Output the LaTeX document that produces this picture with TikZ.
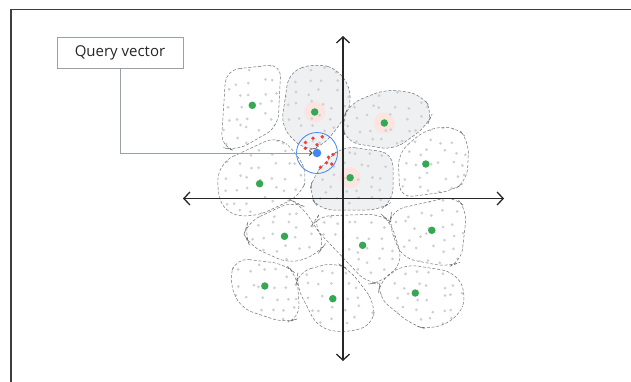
\documentclass[tikz,border=0pt]{standalone}
\usepackage{fontspec}
\usepackage{tikz}
\usetikzlibrary{arrows.meta,positioning}
\newfontfamily\labelfont{Open Sans}
\definecolor{frame-gray}{HTML}{3C4043}
\definecolor{line-gray}{HTML}{6F7378}
\definecolor{soft-gray}{HTML}{9AA0A6}
\definecolor{shade-gray}{HTML}{EEF0F2}
\definecolor{dot-gray}{HTML}{CDCFD2}
\definecolor{halo-pink}{HTML}{FCE4E1}
\definecolor{g-green}{HTML}{34A853}
\definecolor{g-blue}{HTML}{4285F4}
\definecolor{g-red}{HTML}{EA4335}
\tikzset{
    label-box/.style = {draw=soft-gray, line width=0.8pt, rectangle, minimum width=126pt, minimum height=31pt, inner sep=0pt, font=\labelfont\fontsize{15}{18}\selectfont, text=black!85},
    cell-line/.style = {draw=line-gray, line width=0.5pt, dash pattern=on 3pt off 1.8pt, rounded corners=13pt},
    cell-shade/.style = {fill=shade-gray, rounded corners=13pt},
    cell-dot/.style = {fill=dot-gray},
    centroid/.style = {circle, fill=g-green, inner sep=0pt, minimum size=7.5pt},
    halo/.style = {fill=halo-pink},
    axis/.style = {draw=black!85, line width=1.3pt, {Straight Barb[length=6pt,width=13pt]}-{Straight Barb[length=6pt,width=13pt]}},
    leader/.style = {draw=soft-gray, line width=1pt, -{Straight Barb[length=2.5pt,width=5pt,black!70]}},
    query-dot/.style = {circle, fill=g-blue, inner sep=0pt, minimum size=8.5pt},
    near-dot/.style = {fill=g-red},
}
\newcommand{\cellA}{(226,70) -- (281,64) -- (278,127) -- (236,151) -- (221,147) -- cycle}
\newcommand{\cellB}{(289,72) -- (316,63) -- (340,70) -- (353,96) -- (345,118) -- (322,147) -- (305,151) -- (281,127) -- cycle}
\newcommand{\cellC}{(349,104) -- (386,89) -- (421,94) -- (433,112) -- (427,126) -- (394,150) -- (346,142) -- (342,122) -- cycle}
\newcommand{\cellD}{(398,153) -- (426,129) -- (456,126) -- (469,141) -- (467,181) -- (452,191) -- (400,198) -- cycle}
\newcommand{\cellE}{(221,162) -- (277,136) -- (296,152) -- (308,175) -- (300,196) -- (255,217) -- (226,214) -- (216,189) -- cycle}
\newcommand{\cellF}{(342,146) -- (393,153) -- (393,201) -- (380,210) -- (320,210) -- (309,195) -- (313,176) -- (327,161) -- cycle}
\newcommand{\cellG}{(248,222) -- (293,201) -- (301,205) -- (326,243) -- (318,254) -- (290,264) -- (250,246) -- (244,234) -- cycle}
\newcommand{\cellH}{(318,216) -- (381,214) -- (391,222) -- (403,262) -- (381,283) -- (368,284) -- (312,225) -- cycle}
\newcommand{\cellI}{(392,210) -- (455,196) -- (467,210) -- (461,262) -- (448,267) -- (402,258) -- (389,225) -- cycle}
\newcommand{\cellJ}{(236,258) -- (285,264) -- (297,275) -- (300,318) -- (285,323) -- (240,308) -- (229,280) -- cycle}
\newcommand{\cellK}{(298,272) -- (335,262) -- (350,270) -- (375,303) -- (373,325) -- (345,333) -- (318,328) -- (296,285) -- cycle}
\newcommand{\cellL}{(380,280) -- (405,264) -- (455,272) -- (467,295) -- (458,318) -- (430,330) -- (412,325) -- (378,297) -- cycle}

\begin{document}
\begin{tikzpicture}[x=1pt,y=-1pt]
\clip (0,0) rectangle (631,381);
\draw[frame-gray, line width=1.6pt] (11,9.5) rectangle (700,450);

\fill[cell-shade] \cellB \cellC \cellF;
\foreach \p in {(314.7,112),(384.3,123),(350.1,177.7)}
    \fill[halo] \p circle (10.5);
\begin{scope}
    \clip[rounded corners=13pt] \cellA \cellB \cellC \cellD \cellE \cellF \cellG \cellH \cellI \cellJ \cellK \cellL;
    \pgfmathsetseed{11}
    \foreach \i in {0,...,21}
        \foreach \j in {0,...,23}
            \fill[cell-dot] ({214+12*\i+rand*4},{57+12*\j+rand*4}) circle (1.5);
\end{scope}
\draw[cell-line] \cellA \cellB \cellC \cellD \cellE \cellF \cellG \cellH \cellI \cellJ \cellK \cellL;

\foreach \p [count=\k] in {(252.3,105.3),(314.7,112),(384.3,123),(425.8,164),(259.6,183.7),(350.1,177.7),(284.5,236.3),(362.6,245.3),(431.8,230.3),(264.8,286),(332.8,298.7),(415.3,293)}
    \node[centroid] (c\k) at \p {};

\coordinate (x-left) at (183,198.5);
\coordinate (x-right) at (504,198.5);
\coordinate (y-top) at (343,36);
\coordinate (y-bottom) at (343,361);
\draw[axis] (x-left) -- (x-right);
\draw[axis] (y-top) -- (y-bottom);

\node[draw=g-blue, line width=0.8pt, circle, minimum size=41pt, inner sep=0pt] (range) at (317,153) {};
\foreach \p in {(305.5,142.5),(313,138.2),(322.3,136.8),(317,144.8),(305.3,148.3),(333,154.5),(328.5,157.2),(331.8,164),(326.5,162.8),(320.5,167.2)}
    \fill[near-dot] \p circle (1.9);
\node[query-dot] (query) at (317,153) {};

\node[label-box] (qbox) at (120,53) {Query vector};
\draw[leader] (qbox.south) |- (query.west);
\end{tikzpicture}
\end{document}
